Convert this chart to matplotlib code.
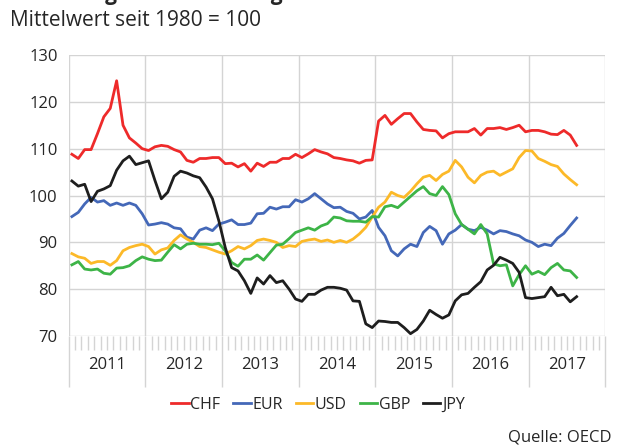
import matplotlib.pyplot as plt
from matplotlib.transforms import blended_transform_factory

plt.rcParams['font.family'] = ['Open Sans', 'DejaVu Sans']

# monthly values, Jan 2011 - Aug 2017 (Mittelwert seit 1980 = 100)
years = ['2011', '2012', '2013', '2014', '2015', '2016', '2017']

chf = [108.8, 107.9, 109.8, 109.8, 113.2, 116.8, 118.6, 124.5, 115.0, 112.3,
       111.2, 110.0, 109.6, 110.4, 110.7, 110.5, 109.8, 109.3, 107.5, 107.1,
       107.9, 107.9, 108.1, 108.1, 106.8, 106.9, 106.1, 106.8, 105.2, 106.9,
       106.2, 107.1, 107.1, 107.9, 107.9, 108.8, 108.1, 108.9, 109.8, 109.3,
       108.9, 108.1, 107.9, 107.6, 107.4, 106.9, 107.5, 107.6, 115.9, 117.1,
       115.2, 116.4, 117.5, 117.5, 115.7, 114.1, 113.9, 113.8, 112.3, 113.2,
       113.6, 113.6, 113.6, 114.3, 112.9, 114.3, 114.3, 114.5, 114.1, 114.5,
       115.0, 113.6, 113.9, 113.9, 113.6, 113.1, 113.0, 113.9, 112.9, 110.7]

eur = [95.5, 96.4, 98.2, 99.6, 98.6, 98.9, 97.9, 98.4, 97.9, 98.4,
       97.9, 96.1, 93.7, 93.9, 94.2, 93.9, 93.1, 92.9, 91.1, 90.7,
       92.6, 93.1, 92.5, 93.9, 94.3, 94.8, 93.8, 93.8, 94.1, 96.1,
       96.2, 97.5, 97.1, 97.6, 97.6, 99.1, 98.6, 99.3, 100.4, 99.3,
       98.2, 97.4, 97.5, 96.6, 96.2, 95.0, 95.4, 96.8, 93.2, 91.4,
       88.2, 87.1, 88.6, 89.6, 89.1, 92.1, 93.4, 92.5, 89.6, 91.8,
       92.6, 93.8, 92.8, 92.5, 93.2, 92.6, 91.8, 92.5, 92.3, 91.8,
       91.4, 90.5, 90.0, 89.1, 89.6, 89.3, 90.9, 91.9, 93.6, 95.2]

usd = [87.6, 86.9, 86.6, 85.5, 85.9, 85.9, 85.1, 86.1, 88.2, 88.9,
       89.3, 89.6, 89.1, 87.5, 88.4, 88.8, 90.4, 91.6, 90.7, 90.0,
       89.1, 88.9, 88.4, 87.9, 87.5, 88.2, 89.1, 88.6, 89.3, 90.4,
       90.7, 90.4, 90.0, 88.9, 89.3, 89.1, 90.2, 90.5, 90.7, 90.2,
       90.5, 90.0, 90.4, 90.0, 90.7, 91.8, 93.2, 95.4, 97.5, 98.6,
       100.7, 100.0, 99.6, 100.9, 102.5, 103.9, 104.3, 103.2, 104.5, 105.2,
       107.5, 106.1, 103.9, 102.7, 104.3, 105.0, 105.2, 104.3, 105.0, 105.7,
       108.1, 109.6, 109.5, 107.9, 107.3, 106.6, 106.2, 104.6, 103.4, 102.3]

gbp = [85.2, 85.9, 84.3, 84.1, 84.3, 83.4, 83.2, 84.5, 84.6, 85.0,
       86.1, 86.9, 86.4, 86.1, 86.2, 87.9, 89.5, 88.6, 89.6, 89.8,
       89.6, 89.6, 89.5, 89.8, 88.2, 85.7, 84.9, 86.4, 86.4, 87.3,
       86.2, 87.8, 89.4, 89.6, 90.8, 92.1, 92.6, 93.1, 92.6, 93.5,
       94.0, 95.4, 95.2, 94.6, 94.5, 94.5, 94.3, 95.5, 95.4, 97.6,
       97.9, 97.4, 98.6, 99.8, 101.0, 101.9, 100.4, 100.0, 101.9, 100.2,
       96.1, 93.8, 92.8, 91.8, 93.8, 91.8, 85.4, 85.0, 85.2, 80.7,
       83.1, 85.0, 83.2, 83.8, 83.1, 84.6, 85.5, 84.1, 83.9, 82.5]

jpy = [103.1, 102.0, 102.4, 98.7, 100.9, 101.4, 102.1, 105.4, 107.4, 108.4,
       106.6, 107.0, 107.4, 103.2, 99.3, 100.7, 104.1, 105.2, 104.8, 104.2,
       103.8, 101.8, 99.3, 94.6, 88.9, 84.6, 83.9, 81.8, 79.1, 82.4,
       81.1, 82.9, 81.4, 81.8, 80.0, 77.9, 77.4, 78.9, 78.9, 79.8,
       80.4, 80.4, 80.2, 79.8, 77.5, 77.4, 72.6, 71.8, 73.2, 73.1,
       72.9, 72.9, 71.8, 70.5, 71.4, 73.2, 75.5, 74.6, 73.8, 74.5,
       77.5, 78.8, 79.1, 80.4, 81.6, 84.1, 85.1, 86.8, 86.2, 85.5,
       83.6, 78.2, 78.0, 78.2, 78.4, 80.4, 78.6, 78.9, 77.3, 78.4]

series = [('CHF', chf, '#ee2a2a'),
          ('EUR', eur, '#4468b8'),
          ('USD', usd, '#fcb928'),
          ('GBP', gbp, '#3db447'),
          ('JPY', jpy, '#1e1e1e')]

grid_col = '#d4d4d4'
text_col = '#262626'

fig = plt.figure(figsize=(6.19, 4.46), dpi=100)
ax = fig.add_axes([0.111, 0.2466, 0.867, 0.6301])

x = [i + 0.5 for i in range(len(chf))]
for name, vals, col in series:
    ax.plot(x, vals, color=col, lw=2.0, label=name, solid_joinstyle='round')

ax.set_xlim(0, 12 * len(years))
ax.set_ylim(70, 130)
ax.set_yticks(range(70, 131, 10))
ax.set_xticks(range(0, 12 * len(years) + 1, 12))
ax.set_xticks(range(0, 12 * len(years) + 1), minor=True)
ax.set_xticklabels([])
ax.grid(True, color=grid_col, lw=1.0)
ax.set_axisbelow(True)
for s in ax.spines.values():
    s.set_visible(False)
ax.tick_params(axis='y', length=0, pad=8, labelsize=12, labelcolor=text_col)
ax.tick_params(axis='x', which='major', length=37, width=1.0, color=grid_col)
ax.tick_params(axis='x', which='minor', length=10, width=1.0, color=grid_col)

trans = blended_transform_factory(ax.transData, fig.transFigure)
for k, yr in enumerate(years):
    ax.text(12 * k + 6, 1 - 365 / 446, yr, transform=trans, ha='center',
            va='center', fontsize=12, color=text_col)

fig.text(10 / 619, 1 - 20 / 446, 'Mittelwert seit 1980 = 100', fontsize=15,
         color=text_col, va='center', ha='left')
fig.text(22 / 619, 1.0, 'Währungen: Entwicklung', fontsize=15,
         fontweight='bold', color=text_col, va='baseline', ha='left')

leg = fig.legend(loc='center', bbox_to_anchor=(318 / 619, 1 - 405 / 446),
                 ncol=5, frameon=False, fontsize=11.5, handlelength=1.1,
                 handletextpad=0.1, columnspacing=0.8)
for t in leg.get_texts():
    t.set_color(text_col)

fig.text(612 / 619, 1 - 437 / 446, 'Quelle: OECD', fontsize=12,
         color=text_col, ha='right', va='center')

fig.savefig('out.png', dpi=100)
